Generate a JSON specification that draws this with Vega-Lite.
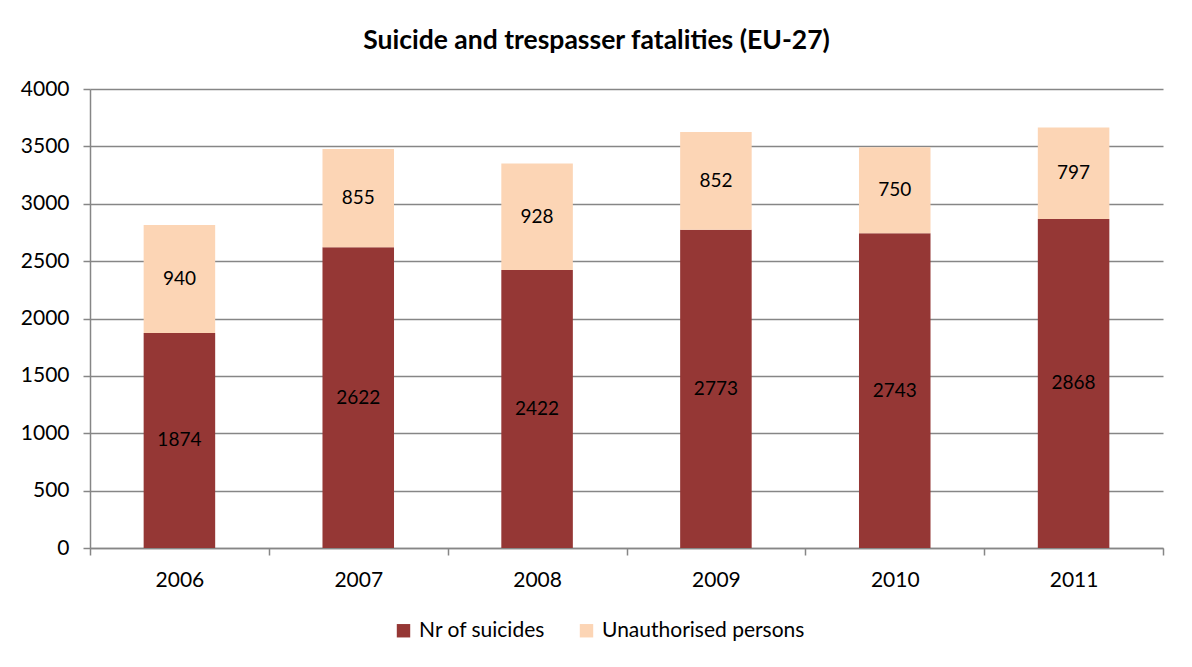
{
  "$schema": "https://vega.github.io/schema/vega-lite/v6.json",
  "width": 1073,
  "height": 459,
  "autosize": "none",
  "padding": {"left": 90, "top": 89, "right": 29, "bottom": 119},
  "background": "white",
  "title": {
    "text": "Suicide and trespasser fatalities (EU-27)",
    "font": "Lato",
    "fontSize": 26.5,
    "fontWeight": "bold",
    "color": "#000000",
    "anchor": "middle",
    "offset": 24,
    "dx": -30
  },
  "data": {
    "values": [
      {"year": "2006", "series": "Nr of suicides", "value": 1874, "ord": 0},
      {"year": "2006", "series": "Unauthorised persons", "value": 940, "ord": 1},
      {"year": "2007", "series": "Nr of suicides", "value": 2622, "ord": 0},
      {"year": "2007", "series": "Unauthorised persons", "value": 855, "ord": 1},
      {"year": "2008", "series": "Nr of suicides", "value": 2422, "ord": 0},
      {"year": "2008", "series": "Unauthorised persons", "value": 928, "ord": 1},
      {"year": "2009", "series": "Nr of suicides", "value": 2773, "ord": 0},
      {"year": "2009", "series": "Unauthorised persons", "value": 852, "ord": 1},
      {"year": "2010", "series": "Nr of suicides", "value": 2743, "ord": 0},
      {"year": "2010", "series": "Unauthorised persons", "value": 750, "ord": 1},
      {"year": "2011", "series": "Nr of suicides", "value": 2868, "ord": 0},
      {"year": "2011", "series": "Unauthorised persons", "value": 797, "ord": 1}
    ]
  },
  "encoding": {
    "x": {
      "field": "year",
      "type": "nominal",
      "scale": {"paddingInner": 0, "paddingOuter": 0},
      "axis": {
        "title": null,
        "labelAngle": 0,
        "labelFont": "Lato",
        "labelFontSize": 21,
        "labelColor": "#000000",
        "labelPadding": 14,
        "tickBand": "extent",
        "tickSize": 7,
        "tickColor": "#868686",
        "domainColor": "#868686",
        "domainWidth": 1.5,
        "tickWidth": 1.5,
        "grid": false
      }
    },
    "y": {
      "field": "value",
      "type": "quantitative",
      "aggregate": "sum",
      "stack": "zero",
      "scale": {"domain": [0, 4000], "nice": false},
      "axis": {
        "title": null,
        "format": "d",
        "values": [0, 500, 1000, 1500, 2000, 2500, 3000, 3500, 4000],
        "labelFont": "Lato",
        "labelFontSize": 21,
        "labelColor": "#000000",
        "labelPadding": 14,
        "tickSize": 7,
        "tickColor": "#868686",
        "domainColor": "#868686",
        "domainWidth": 1.5,
        "tickWidth": 1.5,
        "grid": true,
        "gridColor": "#868686",
        "gridWidth": 1.3
      }
    },
    "order": {"field": "ord", "type": "quantitative"}
  },
  "layer": [
    {
      "mark": {"type": "bar", "width": {"band": 0.4}},
      "encoding": {
        "color": {
          "field": "series",
          "type": "nominal",
          "scale": {
            "domain": ["Nr of suicides", "Unauthorised persons"],
            "range": ["#953735", "#FCD5B5"]
          },
          "legend": {
            "title": null,
            "orient": "none",
            "direction": "horizontal",
            "legendX": 303,
            "legendY": 531,
            "symbolType": "square",
            "symbolSize": 180,
            "symbolStrokeWidth": 0,
            "labelFont": "Lato",
            "labelFontSize": 21,
            "labelColor": "#000000",
            "labelLimit": 400,
            "columnPadding": 30,
            "labelOffset": 5
          }
        }
      }
    },
    {
      "mark": {"type": "text", "font": "Lato", "fontSize": 19, "color": "#000000", "baseline": "middle"},
      "encoding": {
        "y": {
          "field": "value",
          "type": "quantitative",
          "aggregate": "sum",
          "stack": "zero",
          "bandPosition": 0.5
        },
        "text": {"field": "value", "type": "quantitative", "aggregate": "sum"}
      }
    }
  ],
  "config": {
    "view": {"stroke": null}
  }
}
